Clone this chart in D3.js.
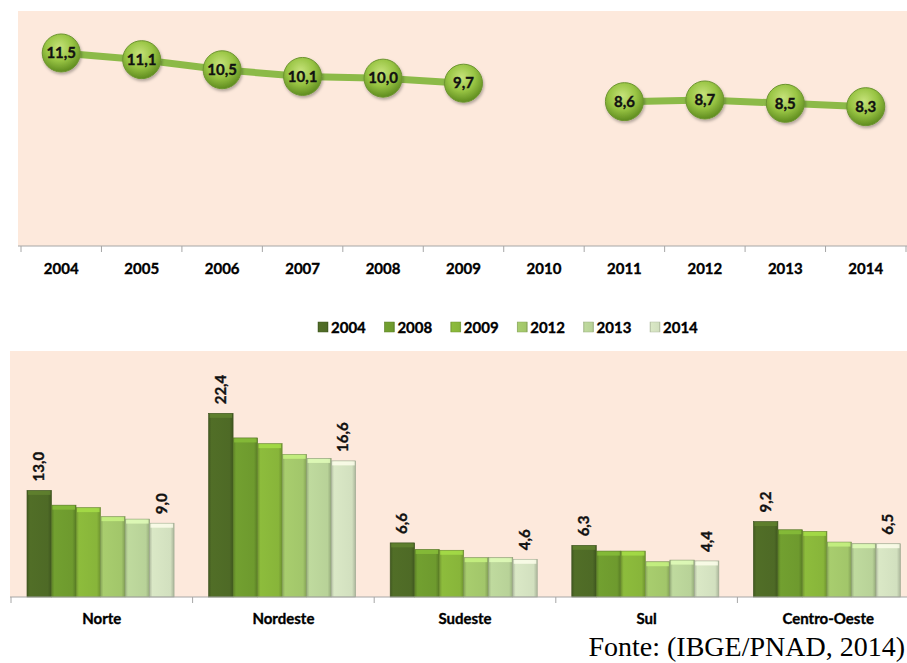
<!DOCTYPE html>
<html><head><meta charset="utf-8">
<script src="https://cdn.jsdelivr.net/npm/d3@7"></script>
<style>html,body{margin:0;padding:0;background:#fff;}svg{display:block;}</style>
</head><body>
<script>
// ---- data ----
const years = ["2004","2005","2006","2007","2008","2009","2010","2011","2012","2013","2014"];
const rates = [11.5, 11.1, 10.5, 10.1, 10.0, 9.7, null, 8.6, 8.7, 8.5, 8.3];
const regions = ["Norte","Nordeste","Sudeste","Sul","Centro-Oeste"];
const seriesYears = ["2004","2008","2009","2012","2013","2014"];
const norte = [13.0, 11.2, 10.9, 9.8, 9.5, 9.0];
const nordeste = [22.4, 19.4, 18.7, 17.4, 16.9, 16.6];
const sudeste = [6.6, 5.8, 5.7, 4.8, 4.8, 4.6];
const sul = [6.3, 5.6, 5.6, 4.3, 4.5, 4.4];
const centroOeste = [9.2, 8.2, 8.0, 6.7, 6.5, 6.5];
const regionValues = [norte, nordeste, sudeste, sul, centroOeste];
const barColors = ["#4e6a26","#6e9a2e","#88b53a","#a2c66a","#b8d298","#d2e0bf"];
const source = "Fonte: (IBGE/PNAD, 2014)";

(function(){
const W = 907, H = 663;
const fmt = v => v.toFixed(1).replace(".", ",");
const font = "Lato, 'Open Sans', sans-serif";
const FW = "bold";
const heavy = sel => sel.attr("font-family", font).attr("font-weight", FW)
  .attr("stroke", "#000").attr("stroke-width", 0.35);
const svg = d3.select("body").append("svg").attr("width", W).attr("height", H);
const defs = svg.append("defs");

// marker gradient
const rg = defs.append("radialGradient").attr("id","ball").attr("cx","45%").attr("cy","35%").attr("r","65%");
rg.append("stop").attr("offset","0%").attr("stop-color","#c6e27a");
rg.append("stop").attr("offset","55%").attr("stop-color","#98c443");
rg.append("stop").attr("offset","100%").attr("stop-color","#5f8c1f");
const sh = defs.append("filter").attr("id","shadow").attr("x","-30%").attr("y","-30%").attr("width","160%").attr("height","160%");
sh.append("feDropShadow").attr("dx",1).attr("dy",2).attr("stdDeviation",1.5).attr("flood-color","#000").attr("flood-opacity",0.3);

// bar gradients
barColors.forEach((c, i) => {
  const g = defs.append("linearGradient").attr("id","bar"+i).attr("x1","0%").attr("x2","100%").attr("y1","0%").attr("y2","0%");
  const base = d3.color(c);
  g.append("stop").attr("offset","0%").attr("stop-color", base.darker(0.5));
  g.append("stop").attr("offset","12%").attr("stop-color", base.brighter(0.1));
  g.append("stop").attr("offset","85%").attr("stop-color", base);
  g.append("stop").attr("offset","100%").attr("stop-color", base.darker(0.6));
});

// ---- top chart ----
const tA = {left: 18, right: 907, top: 11, bottom: 246};
svg.append("rect").attr("x", tA.left).attr("y", tA.top).attr("width", tA.right - tA.left)
  .attr("height", tA.bottom - tA.top).attr("fill", "#fde9dc");

const xT = d3.scaleBand().domain(years).range([21, 906]);
const yT = d3.scaleLinear().domain([0, 14]).range([tA.bottom, tA.top]);

const axT = svg.append("g").attr("transform", `translate(0,${tA.bottom})`)
  .call(d3.axisBottom(xT).tickSize(0).tickPadding(17));
axT.select(".domain").attr("stroke","#a6a6a6").attr("d", `M${tA.left},0H${tA.right}`);
heavy(axT.selectAll("text")).attr("font-size",15).attr("fill","#000");
axT.selectAll(".bt").data(years.concat(["end"])).enter().append("line")
  .attr("x1",(d,i)=> 21 + i*xT.step()).attr("x2",(d,i)=> 21 + i*xT.step())
  .attr("y1",0).attr("y2",6).attr("stroke","#a6a6a6");

const lineGen = d3.line().defined(d => d.v != null)
  .x(d => xT(d.y) + xT.bandwidth()/2).y(d => yT(d.v));
const pts = years.map((y, i) => ({y, v: rates[i]}));
svg.append("path").datum(pts).attr("d", lineGen).attr("fill","none")
  .attr("stroke","#8cba48").attr("stroke-width",7);

const mk = svg.selectAll(".mk").data(pts.filter(d => d.v != null)).enter().append("g")
  .attr("transform", d => `translate(${xT(d.y) + xT.bandwidth()/2},${yT(d.v)})`);
mk.append("circle").attr("r",19).attr("fill","url(#ball)").attr("stroke","#6c9430").attr("stroke-width",1)
  .attr("filter","url(#shadow)");
heavy(mk.append("text").text(d => fmt(d.v)).attr("text-anchor","middle").attr("dy","0.35em"))
  .attr("font-size",15).attr("fill","#111").attr("stroke","#111");

// ---- bar chart ----
const bA = {left: 10, right: 907, top: 351, bottom: 597};
// legend
const leg = svg.append("g");
seriesYears.forEach((s, i) => {
  const gx = 318 + i*66.4;
  leg.append("rect").attr("x", gx).attr("y", 322).attr("width",10).attr("height",10)
    .attr("fill", `url(#bar${i})`).attr("stroke", d3.color(barColors[i]).darker(0.5)).attr("stroke-width",0.5);
  heavy(leg.append("text").attr("x", gx + 13).attr("y", 333).text(s)).attr("font-size",15).attr("fill","#000");
});

svg.append("rect").attr("x", bA.left).attr("y", bA.top).attr("width", bA.right - bA.left)
  .attr("height", bA.bottom - bA.top).attr("fill", "#fde9dc");

const x0 = d3.scaleBand().domain(regions).range([11, 919]);
const x1 = d3.scaleBand().domain(seriesYears).range([x0.bandwidth()*0.088, x0.bandwidth()*0.898]);
const yB = d3.scaleLinear().domain([0, 30]).range([bA.bottom, bA.top]);

const grp = svg.selectAll(".grp").data(regions).enter().append("g")
  .attr("transform", d => `translate(${x0(d)},0)`);
grp.each(function(r, ri) {
  const g = d3.select(this);
  const vals = regionValues[ri];
  seriesYears.forEach((s, si) => {
    const v = vals[si];
    const bx = x1(s), bw = x1.bandwidth(), by = yB(v), bh = yB(0) - yB(v);
    g.append("rect").attr("x", bx).attr("y", by).attr("width", bw).attr("height", bh)
      .attr("fill", `url(#bar${si})`).attr("stroke", d3.color(barColors[si]).darker(0.8)).attr("stroke-width",0.6);
    g.append("rect").attr("x", bx+1).attr("y", by+0.5).attr("width", bw-2).attr("height", 4)
      .attr("fill", d3.color(barColors[si]).brighter(0.6)).attr("opacity",0.8);
    if (si === 0 || si === seriesYears.length - 1) {
      heavy(g.append("text").text(fmt(v))
        .attr("transform", `translate(${bx + bw/2 + 5},${by - 9}) rotate(-90)`))
        .attr("font-size",15).attr("fill","#111").attr("stroke","#111");
    }
  });
});

const axB = svg.append("g").attr("transform", `translate(0,${bA.bottom})`)
  .call(d3.axisBottom(x0).tickSize(0).tickPadding(16));
axB.select(".domain").attr("stroke","#a6a6a6").attr("d", `M${bA.left},0H${bA.right}`);
heavy(axB.selectAll("text")).attr("font-size",15).attr("fill","#000");
axB.selectAll(".bt").data(regions).enter().append("line")
  .attr("x1", d => x0(d)).attr("x2", d => x0(d)).attr("y1",0).attr("y2",6).attr("stroke","#a6a6a6");

svg.append("text").attr("x", 905).attr("y", 656).attr("text-anchor","end").text(source)
  .attr("font-family","'Liberation Serif', 'Times New Roman', serif").attr("font-size",28).attr("fill","#000");
})();
</script>
</body></html>
